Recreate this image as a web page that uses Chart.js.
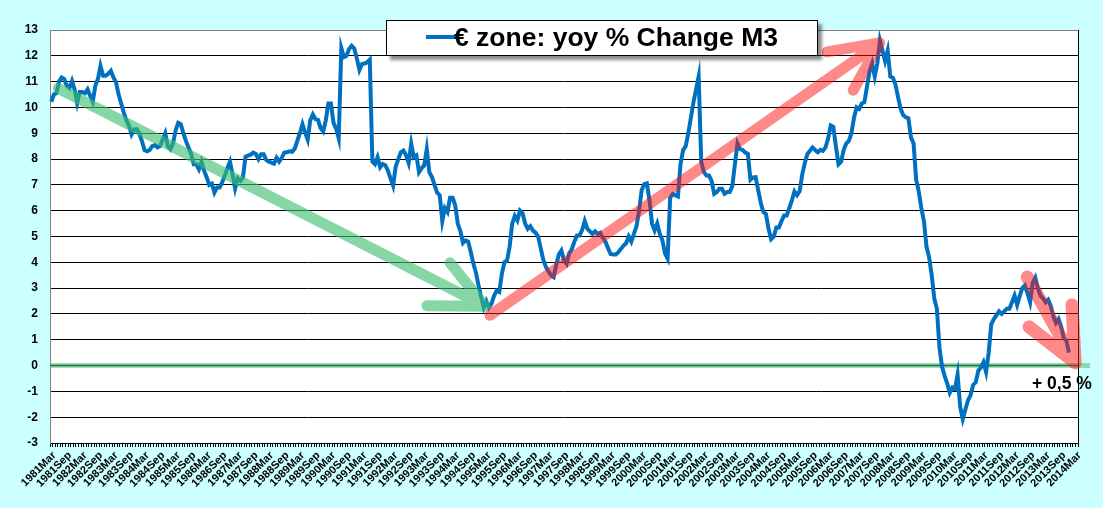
<!DOCTYPE html>
<html>
<head>
<meta charset="utf-8">
<script src="https://cdn.jsdelivr.net/npm/chart.js@4.4.0/dist/chart.umd.min.js"></script>
<style>
html,body{margin:0;padding:0;background:#CCFFFF;}
#wrap{position:relative;width:1103px;height:508px;overflow:hidden;background:#CCFFFF;}
#c{position:absolute;left:0;top:0;}
#legend{position:absolute;left:386px;top:20px;width:430px;height:34px;background:#fff;border:1px solid #000;box-shadow:4px 4px 3px rgba(0,0,0,0.45);font-family:"Liberation Sans",Arial,sans-serif;font-weight:bold;font-size:26.5px;line-height:34px;color:#000;white-space:nowrap;}
#legend .swatch{position:absolute;left:39px;top:14px;width:30px;height:4px;background:#0070C0;}
#legend .txt{position:absolute;left:67px;top:-1px;}
#note{position:absolute;left:1032px;top:373px;font-family:"Liberation Sans",Arial,sans-serif;font-weight:bold;font-size:17.5px;line-height:20px;color:#000;white-space:nowrap;}
</style>
</head>
<body>
<div id="wrap">
<canvas id="c" width="1103" height="508"></canvas>
<div id="legend"><span class="swatch"></span><span class="txt">€ zone: yoy % Change M3</span></div>
<div id="note">+ 0,5 %</div>
</div>
<script>
// ---- data ----
const startYear = 1981;
const startMonth = 2; // March (0-based)
const monthCount = 397; // 1981Mar .. 2014Mar
const monthNames = ['Jan','Feb','Mar','Apr','May','Jun','Jul','Aug','Sep','Oct','Nov','Dec'];

// yoy % change of M3, monthly from 1981Mar
const m3Growth = [
 10.22,10.5,10.55,11.0,11.16,11.1,10.84,10.75,11.03,10.7,10.17,10.6,
 10.6,10.55,10.7,10.45,10.22,10.84,11.1,11.61,11.23,11.23,11.3,11.42,
 11.16,10.97,10.5,10.15,9.8,9.5,9.3,8.95,9.14,9.16,9.0,8.7,
 8.35,8.3,8.35,8.5,8.54,8.45,8.5,8.75,9.0,8.5,8.38,8.6,
 9.1,9.4,9.35,9.0,8.7,8.45,8.2,7.8,7.8,7.6,7.9,7.55,
 7.3,7.0,7.05,6.7,6.9,6.9,7.1,7.35,7.65,7.9,7.4,6.86,
 7.25,7.16,7.29,8.09,8.13,8.17,8.25,8.2,8.0,8.19,8.19,7.97,
 7.9,7.86,7.82,8.05,7.9,8.05,8.25,8.26,8.3,8.28,8.4,8.7,
 9.0,9.35,9.03,8.75,9.5,9.73,9.55,9.52,9.2,9.07,9.5,10.15,
 10.15,9.4,9.18,8.8,12.3,11.95,12.0,12.26,12.39,12.28,11.9,11.45,
 11.68,11.7,11.75,11.85,7.9,7.8,8.07,7.68,7.81,7.76,7.55,7.25,
 6.97,7.7,8.0,8.26,8.33,8.15,7.85,8.6,8.07,8.14,7.49,7.65,
 7.75,8.39,7.49,7.3,7.0,6.7,6.6,5.6,6.1,5.95,6.5,6.5,
 6.2,5.49,5.2,4.75,4.85,4.8,4.4,3.95,3.6,3.1,2.65,2.25,
 2.5,2.25,2.4,2.7,2.9,2.85,3.55,4.0,4.07,4.6,5.5,5.8,
 5.62,6.0,5.9,5.5,5.3,5.4,5.23,5.15,5.0,4.55,4.1,3.82,
 3.65,3.5,3.43,3.9,4.3,4.46,4.07,3.94,4.35,4.5,4.8,5.04,
 5.04,5.25,5.6,5.3,5.2,5.1,5.2,5.1,5.15,4.95,4.8,4.55,
 4.32,4.3,4.3,4.39,4.52,4.65,4.74,5.0,4.8,5.1,5.4,6.0,
 6.8,7.03,7.06,6.4,5.5,5.23,5.5,5.1,4.85,4.35,4.15,6.5,
 6.65,6.6,6.55,7.8,8.35,8.5,9.0,9.6,10.2,10.7,11.2,7.9,
 7.5,7.36,7.36,7.15,6.65,6.72,6.85,6.85,6.65,6.72,6.72,6.95,
 7.8,8.6,8.39,8.35,8.25,8.2,7.2,7.29,7.3,6.8,6.3,5.95,
 5.87,5.29,4.9,5.0,5.35,5.35,5.6,5.81,5.81,6.1,6.4,6.75,
 6.6,6.75,7.4,7.85,8.2,8.32,8.45,8.35,8.26,8.36,8.32,8.45,
 8.8,9.3,9.25,8.5,7.8,7.9,8.35,8.6,8.7,9.0,9.6,10.0,
 9.94,10.15,10.2,10.8,11.4,11.7,11.2,11.7,12.6,12.2,11.8,12.2,
 11.2,11.15,10.9,10.4,9.95,9.7,9.62,9.58,8.84,8.6,7.2,6.75,
 6.1,5.6,4.6,4.2,3.5,2.6,2.2,0.7,-0.05,-0.4,-0.7,-1.05,
 -0.85,-0.9,-0.35,-1.6,-2.07,-1.7,-1.35,-1.15,-0.75,-0.65,-0.2,-0.07,
 0.13,-0.25,0.5,1.6,1.8,1.95,2.1,2.0,2.1,2.2,2.2,2.45,
 2.71,2.35,2.7,3.0,3.1,2.8,2.45,3.2,3.4,3.0,2.71,2.6,
 2.45,2.55,2.3,1.9,1.65,1.8,1.5,1.05,0.97,0.5,
 null,null,null
];

const yTicksMin = -3;
const yTicksMax = 13;

// annotation arrows in data space: [monthIndex, value]
const greenArrow = {from:[2.7,10.74], tip:[167.5,2.3], arms:[[154,3.98],[145.1,2.32]]};
const redArrowUp = {from:[169.4,1.95], tip:[319.9,12.5], arms:[[299.6,12.15],[309.7,10.67]]};
const redArrowDown = {from:[376.9,3.43], tip:[395.4,0.11], arms:[[377.6,1.5],[394.2,2.35]]};

// ---- build ----
const categories = [];
for (let k = 0; k < monthCount; k++) {
  const m = startMonth + k;
  categories.push((startYear + Math.floor(m / 12)) + monthNames[m % 12]);
}

function drawArrow(chart, arrow, color, width) {
  const {ctx, scales:{x, y}} = chart;
  const P = p => [x.getPixelForValue(p[0]), y.getPixelForValue(p[1])];
  const t = P(arrow.tip);
  ctx.save();
  ctx.strokeStyle = color;
  ctx.lineWidth = width;
  ctx.lineCap = 'round';
  ctx.lineJoin = 'round';
  ctx.beginPath();
  const f = P(arrow.from);
  ctx.moveTo(f[0], f[1]); ctx.lineTo(t[0], t[1]);
  arrow.arms.forEach(a => { const q = P(a); ctx.moveTo(q[0], q[1]); ctx.lineTo(t[0], t[1]); });
  ctx.stroke();
  ctx.restore();
}

const decor = {
  id: 'decor',
  beforeDraw(chart) {
    const {ctx, chartArea:a} = chart;
    ctx.save();
    ctx.fillStyle = '#CCFFFF';
    ctx.fillRect(0, 0, chart.width, chart.height);
    ctx.fillStyle = '#FFFFFF';
    ctx.fillRect(a.left, a.top, a.right - a.left, a.bottom - a.top);
    ctx.restore();
  },
  beforeDatasetsDraw(chart) {
    const {ctx, chartArea:a, scales:{y}} = chart;
    const y0 = y.getPixelForValue(0);
    ctx.save();
    ctx.strokeStyle = 'rgba(90,200,130,0.6)';
    ctx.lineWidth = 5;
    ctx.beginPath(); ctx.moveTo(a.left, y0); ctx.lineTo(a.right + 12, y0); ctx.stroke();
    ctx.strokeStyle = '#1f6b3f';
    ctx.lineWidth = 1.5;
    ctx.beginPath(); ctx.moveTo(a.left, y0); ctx.lineTo(a.right, y0); ctx.stroke();
    // plot border top and right
    ctx.lineWidth = 1;
    ctx.strokeStyle = '#808080';
    ctx.beginPath(); ctx.moveTo(a.left, a.top + 0.5); ctx.lineTo(a.right, a.top + 0.5); ctx.stroke();
    ctx.strokeStyle = '#000';
    ctx.beginPath(); ctx.moveTo(a.right + 0.5, a.top); ctx.lineTo(a.right + 0.5, a.bottom); ctx.stroke();
    ctx.restore();
  },
  afterDatasetsDraw(chart) {
    drawArrow(chart, greenArrow, 'rgba(60,190,110,0.62)', 11);
    drawArrow(chart, redArrowUp, 'rgba(255,20,20,0.5)', 11);
    drawArrow(chart, redArrowDown, 'rgba(255,20,20,0.5)', 13);
  }
};

new Chart(document.getElementById('c'), {
  type: 'line',
  data: {
    labels: categories,
    datasets: [{
      label: '€ zone: yoy % Change M3',
      data: m3Growth,
      borderColor: '#0070C0',
      borderWidth: 4,
      pointRadius: 0,
      tension: 0,
      fill: false
    }]
  },
  options: {
    responsive: false,
    animation: false,
    devicePixelRatio: 1,
    layout: {padding: {top: 30, right: 25, left: 0, bottom: 0}},
    plugins: {legend: {display: false}, tooltip: {enabled: false}},
    scales: {
      x: {
        type: 'category',
        offset: true,
        grid: {offset: true, drawOnChartArea: false, drawTicks: true, tickLength: 4, color: '#000', lineWidth: 1},
        border: {color: '#000', width: 1},
        ticks: {
          autoSkip: false,
          minRotation: 45,
          maxRotation: 45,
          padding: 2,
          labelOffset: 3,
          color: '#000',
          font: {family: '"Liberation Sans", Arial, sans-serif', weight: 'bold', size: 11},
          callback: function(val, idx) { return idx % 6 === 0 ? categories[idx] : ''; }
        },
        afterFit(scale) { scale.height = 65; scale.paddingLeft = 0; scale.paddingRight = 0; }
      },
      y: {
        min: yTicksMin,
        max: yTicksMax,
        ticks: {
          stepSize: 1,
          padding: 12,
          color: '#000',
          font: {family: '"Liberation Sans", Arial, sans-serif', weight: 'bold', size: 12}
        },
        grid: {
          drawTicks: false,
          color: ctx => (ctx.tick && ctx.tick.value === yTicksMax) ? '#808080' : '#000',
          lineWidth: 1
        },
        border: {color: '#808080', width: 1},
        afterFit(scale) { scale.width = 50; }
      }
    }
  },
  plugins: [decor]
});
</script>
</body>
</html>
